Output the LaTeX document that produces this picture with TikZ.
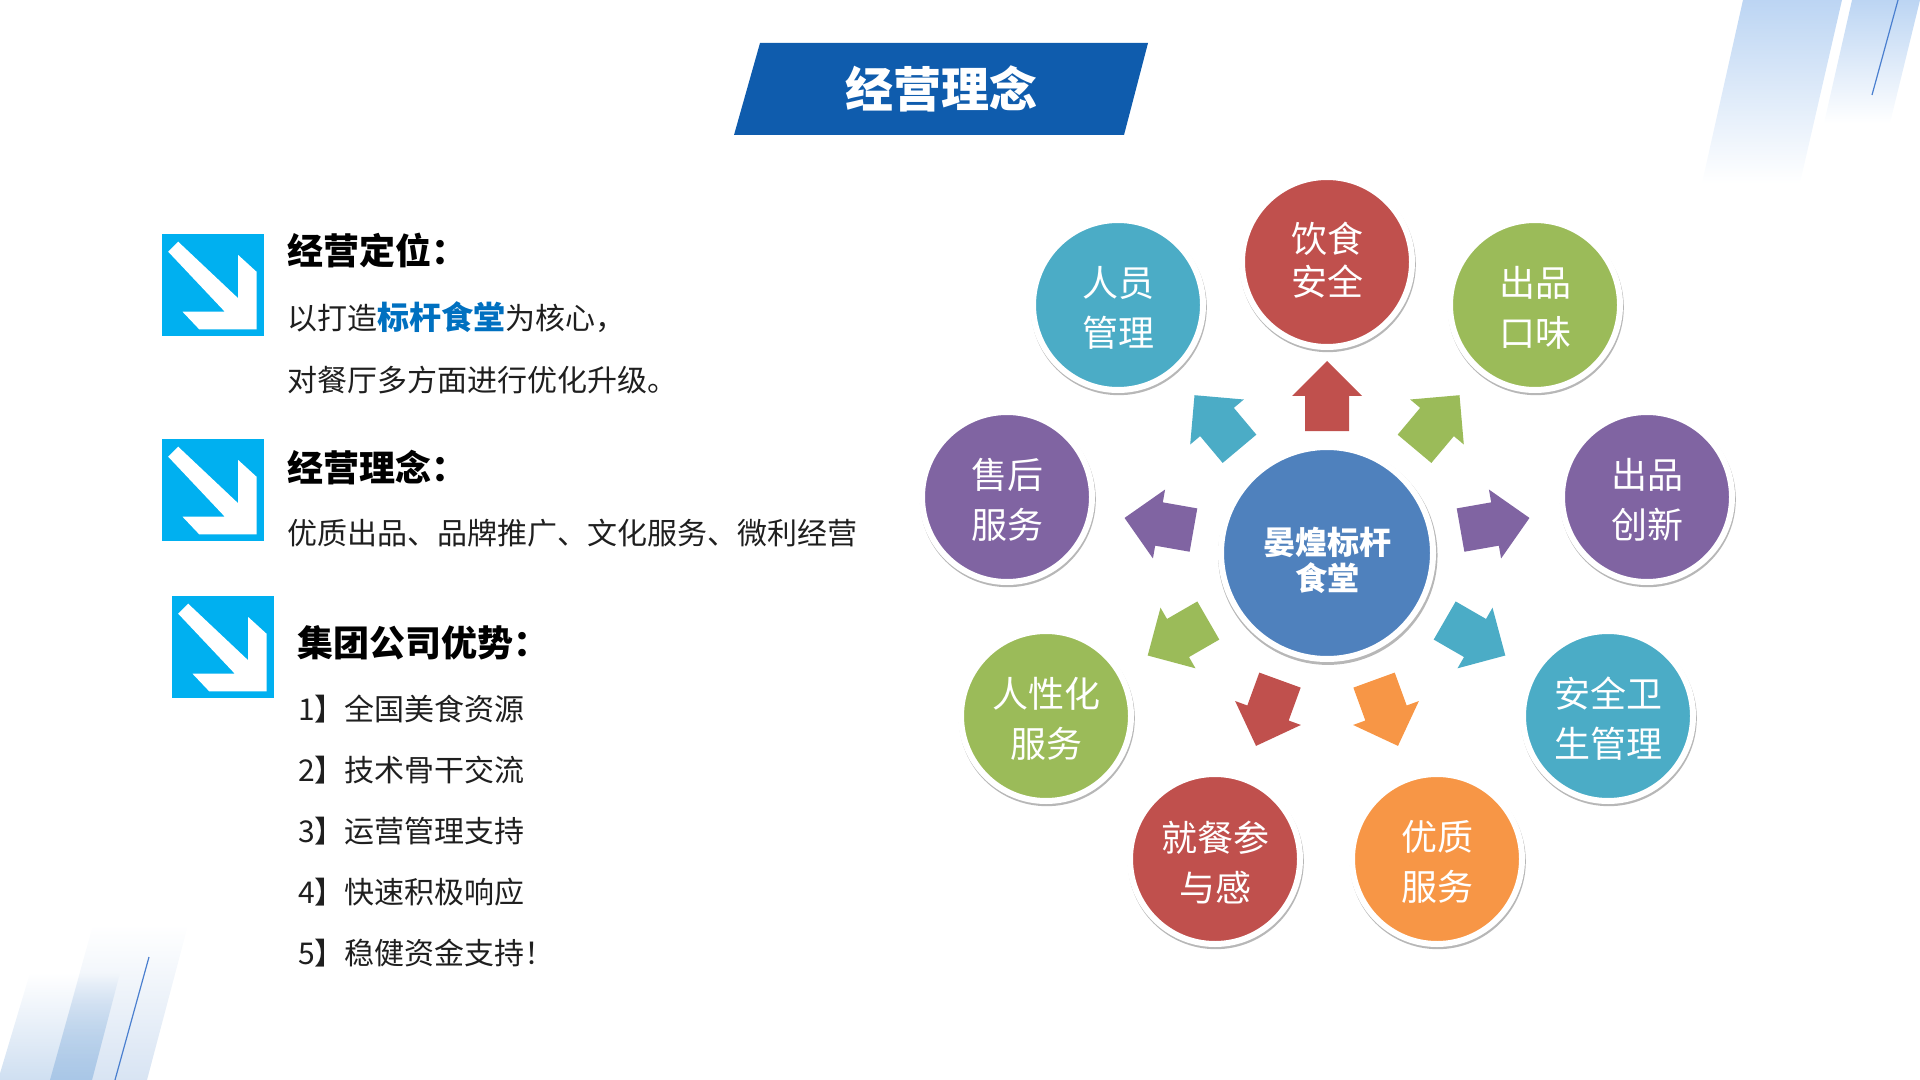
\documentclass[tikz,border=0pt]{standalone}
\usepackage{fontspec}
\setmainfont{Noto Sans CJK SC}
\usetikzlibrary{shadows,fadings}

\definecolor{titleblue}{HTML}{0F5CAD}
\definecolor{markblue}{HTML}{00B0F0}
\definecolor{accentblue}{HTML}{0070C0}
\definecolor{hubblue}{HTML}{4F81BD}
\definecolor{offred}{HTML}{C0504D}
\definecolor{offgreen}{HTML}{9BBB59}
\definecolor{offpurple}{HTML}{8064A2}
\definecolor{offcyan}{HTML}{4BACC6}
\definecolor{offorange}{HTML}{F79646}
\definecolor{bandblue}{HTML}{BCD5F3}
\definecolor{bandpale}{HTML}{D8E4F3}
\definecolor{bandmid}{HTML}{CFDFF1}
\definecolor{banddeep}{HTML}{A9C7E7}
\definecolor{linkblue}{HTML}{4A7FCF}

\tikzfading[name=bandfadedown, top color=transparent!0, bottom color=transparent!100]
\tikzfading[name=bandfadeup, top color=transparent!100, bottom color=transparent!0]

\tikzset{
  softshadow/.style={drop shadow={shadow xshift=.6pt, shadow yshift=-1.6pt, shadow scale=1.035, opacity=.4, fill=black!70}},
  topic/.style={circle, draw=white, line width=4.5pt, inner sep=0pt, outer sep=0pt, minimum size=127.5pt, text=white, align=center, softshadow, font=\fontsize{27}{37.5}\selectfont, text height=65pt},
  hub/.style={topic, minimum size=159pt, font=\fontsize{24}{27}\selectfont\bfseries, text height=59pt},
  headline/.style={anchor=west, inner sep=0pt, font=\fontsize{27}{32}\selectfont\bfseries},
  bodyline/.style={anchor=west, inner sep=0pt, text=black!88, font=\fontsize{22.5}{28}\selectfont},
  fatarrow/.pic={
    \path[pic actions] (-35,-22) -- (0,-22) -- (0,-35) -- (35,0) -- (0,35) -- (0,22) -- (-35,22) -- cycle;
  },
  markbox/.pic={
    \fill[markblue] (0,0) rectangle (102,102);
    \fill[white] (6.7,17.7) -- (16.7,7.7) -- (76.7,64.3) -- (76.7,21) -- (95,37.7) -- (95,95.3) -- (37.7,95.3) -- (21,77.7) -- (63.3,77.7) -- cycle;
  }
}

\begin{document}
\begin{tikzpicture}[x=0.75pt, y=-0.75pt]
  \useasboundingbox (0,0) rectangle (1920,1080);

  % Corner bands
  \fill[bandblue, path fading=bandfadedown] (1743,0) -- (1842,0) -- (1800,183) -- (1702,183) -- cycle;
  \fill[bandblue, path fading=bandfadedown] (1852,0) -- (1920,0) -- (1890,123) -- (1824,123) -- cycle;
  \draw[linkblue, line width=0.9pt] (1898,0) -- (1872,95);
  \fill[bandpale, path fading=bandfadeup] (93,925) -- (188,925) -- (147,1080) -- (50,1080) -- cycle;
  \fill[bandmid, path fading=bandfadeup] (30,973) -- (120,973) -- (92,1080) -- (-2,1080) -- cycle;
  \fill[banddeep, path fading=bandfadeup] (80,973) -- (120,973) -- (92,1080) -- (50,1080) -- cycle;
  \draw[linkblue, line width=0.9pt] (149,957) -- (115,1080);

  % Title
  \fill[titleblue] (760,43) -- (1148,43) -- (1124,135) -- (734,135) -- cycle;
  \node[text=white, font=\fontsize{36}{40}\selectfont\bfseries] (title) at (941,89) {经营理念};

  % Left column
  \pic (markA) at (161.5,234) {markbox};
  \pic (markB) at (161.5,439) {markbox};
  \pic (markC) at (171.5,596) {markbox};

  \node[headline] (headA) at (287.5,250) {经营定位：};
  \node[bodyline] (lineA1) at (287.5,317) {以打造{\fontsize{24}{28}\selectfont\bfseries\color{accentblue}标杆食堂}为核心，};
  \node[bodyline] (lineA2) at (287.5,380) {对餐厅多方面进行优化升级。};

  \node[headline] (headB) at (287.5,468) {经营理念：};
  \node[bodyline] (lineB1) at (287.5,533) {优质出品、品牌推广、文化服务、微利经营};

  \node[headline] (headC) at (297.5,643) {集团公司优势：};
  \node[bodyline] (lineC1) at (298,709) {1】全国美食资源};
  \node[bodyline] (lineC2) at (298,770) {2】技术骨干交流};
  \node[bodyline] (lineC3) at (298,831) {3】运营管理支持};
  \node[bodyline] (lineC4) at (298,892) {4】快速积极响应};
  \node[bodyline] (lineC5) at (298,953) {5】稳健资金支持！};

  % Hub
  \node[hub, fill=hubblue] (hub) at (1327,553) {晏煌标杆\\食堂};

  % Topics
  \node[topic, fill=offred, font=\fontsize{27}{32}\selectfont, text height=52pt] (safe) at (1327,262) {饮食\\安全};
  \node[topic, fill=offcyan] (staff) at (1118,305) {人员\\管理};
  \node[topic, fill=offgreen] (taste) at (1535,305) {出品\\口味};
  \node[topic, fill=offpurple] (after) at (1007,497) {售后\\服务};
  \node[topic, fill=offpurple] (create) at (1647,497) {出品\\创新};
  \node[topic, fill=offgreen] (human) at (1046,716) {人性化\\服务};
  \node[topic, fill=offcyan] (hygiene) at (1608,716) {安全卫\\生管理};
  \node[topic, fill=offred] (dining) at (1215,859) {就餐参\\与感};
  \node[topic, fill=offorange] (service) at (1437,859) {优质\\服务};

  % Arrows
  \pic[fill=offred, softshadow, rotate=90] (toSafe) at (1327,396) {fatarrow};
  \pic[fill=offcyan, softshadow, rotate=130] (toStaff) at (1217,422) {fatarrow};
  \pic[fill=offgreen, softshadow, rotate=50] (toTaste) at (1437,422) {fatarrow};
  \pic[fill=offpurple, softshadow, rotate=170] (toAfter) at (1159,524) {fatarrow};
  \pic[fill=offpurple, softshadow, rotate=10] (toCreate) at (1495,524) {fatarrow};
  \pic[fill=offgreen, softshadow, rotate=210] (toHuman) at (1178,638) {fatarrow};
  \pic[fill=offcyan, softshadow, rotate=-30] (toHygiene) at (1475,638) {fatarrow};
  \pic[fill=offred, softshadow, rotate=250] (toDining) at (1268,713) {fatarrow};
  \pic[fill=offorange, softshadow, rotate=-70] (toService) at (1386,713) {fatarrow};
\end{tikzpicture}
\end{document}
